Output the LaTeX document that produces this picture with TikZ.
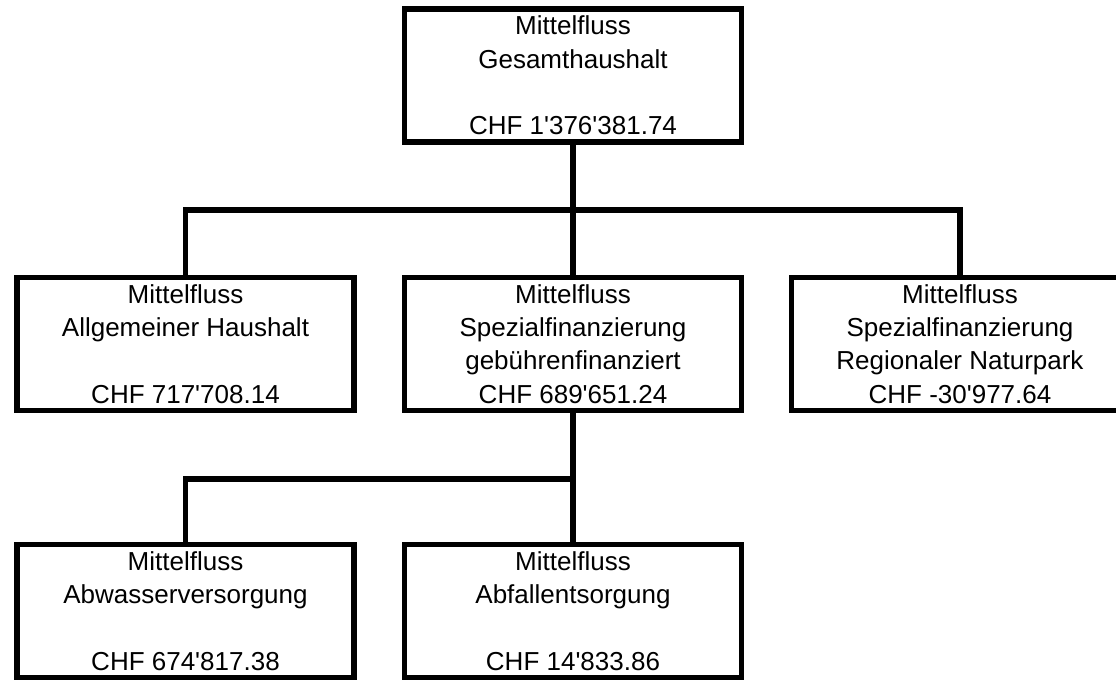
\documentclass[tikz,border=0pt]{standalone}
\usepackage{fontspec}
\newfontfamily\flussfont{Liberation Sans}

\begin{document}
\begin{tikzpicture}[x=0.5pt,y=-0.5pt,line width=2.75pt,
  fluss/.style={draw,align=center,inner sep=0pt,minimum width=168.5pt,
    minimum height=66.5pt,font=\flussfont\fontsize{13}{16.6}\selectfont}]
  \useasboundingbox (0,0) rectangle (1116,681);
  \clip (0,0) rectangle (1116,681);
  \node[fluss] (gesamt) at (573,75.5) {Mittelfluss\\Gesamthaushalt\\\strut\\CHF 1'376'381.74};
  \node[fluss] (allg) at (185.5,344) {Mittelfluss\\Allgemeiner Haushalt\\\strut\\CHF 717'708.14};
  \node[fluss] (gebuehr) at (573,344) {Mittelfluss\\Spezialfinanzierung\\gebührenfinanziert\\CHF 689'651.24};
  \node[fluss] (naturpark) at (960,344) {Mittelfluss\\Spezialfinanzierung\\Regionaler Naturpark\\CHF -30'977.64};
  \node[fluss] (abwasser) at (185.5,611) {Mittelfluss\\Abwasserversorgung\\\strut\\CHF 674'817.38};
  \node[fluss] (abfall) at (573,611) {Mittelfluss\\Abfallentsorgung\\\strut\\CHF 14'833.86};
  \coordinate (obenbus) at (573,210);
  \coordinate (untenbus) at (573,479);
  \draw (gesamt.south) -- (obenbus);
  \draw (allg.north) |- (obenbus) -| (naturpark.north);
  \draw (obenbus) -- (gebuehr.north);
  \draw (gebuehr.south) -- (untenbus);
  \draw (abwasser.north) |- (untenbus) -- (abfall.north);
\end{tikzpicture}
\end{document}
